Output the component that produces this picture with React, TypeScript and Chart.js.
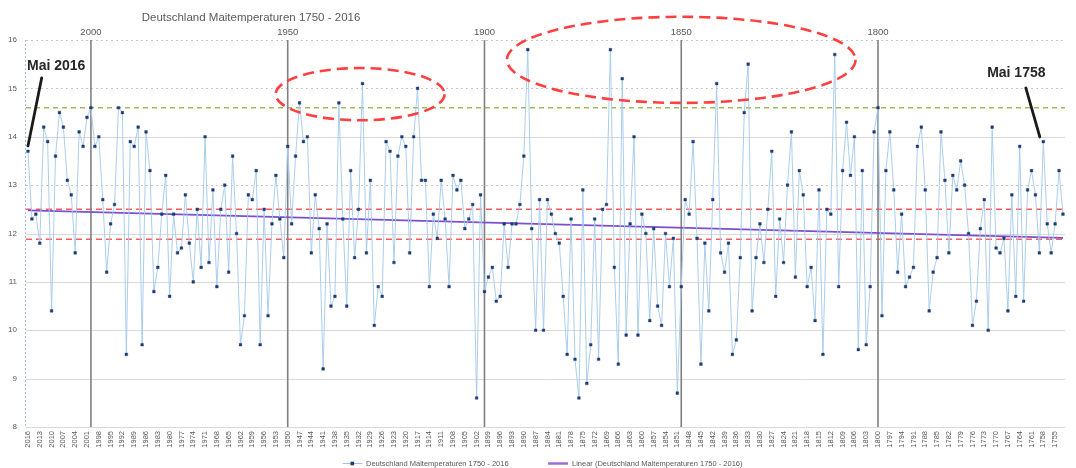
import React, { useEffect, useRef } from "react";
import { Chart, registerables } from "chart.js";

Chart.register(...registerables);

// ---------- data ----------
const firstYear = 2016;
const lastYear = 1753;

// May temperatures (°C), newest first
const temps2016to1951 = [
  13.7, 12.3, 12.4, 11.8, 14.2, 13.9, 10.4, 13.6, 14.5, 14.2,
  13.1, 12.8, 11.6, 14.1, 13.8, 14.4, 14.6, 13.8, 14.0, 12.7,
  11.2, 12.2, 12.6, 14.6, 14.5, 9.5, 13.9, 13.8, 14.2, 9.7,
  14.1, 13.3, 10.8, 11.3, 12.4, 13.2, 10.7, 12.4, 11.6, 11.7,
  12.8, 11.8, 11.0, 12.5, 11.3, 14.0, 11.4, 12.9, 10.9, 12.5,
  13.0, 11.2, 13.6, 12.0, 9.7, 10.3, 12.8, 12.7, 13.3, 9.7,
  12.5, 10.3, 12.2, 13.2, 12.3, 11.5,
];
const temps1950to1901 = [
  13.8, 12.2, 13.6, 14.7, 13.9, 14.0, 11.6, 12.8, 12.1, 9.2,
  12.2, 10.5, 10.7, 14.7, 12.3, 10.5, 13.3, 11.5, 12.5, 15.1,
  11.6, 13.1, 10.1, 10.9, 10.7, 13.9, 13.7, 11.4, 13.6, 14.0,
  13.8, 11.6, 14.0, 15.0, 13.1, 13.1, 10.9, 12.4, 11.9, 13.1,
  12.3, 10.9, 13.2, 12.9, 13.1, 12.1, 12.3, 12.6, 8.6, 12.8,
];
const temps1900to1851 = [
  10.8, 11.1, 11.3, 10.6, 10.7, 12.2, 11.3, 12.2, 12.2, 12.6,
  13.6, 15.8, 12.1, 10.0, 12.7, 10.0, 12.7, 12.4, 12.0, 11.8,
  10.7, 9.5, 12.3, 9.4, 8.6, 12.9, 8.9, 9.7, 12.3, 9.4,
  12.5, 12.6, 15.8, 11.3, 9.3, 15.2, 9.9, 12.2, 14.0, 9.9,
  12.4, 12.0, 10.2, 12.1, 10.5, 10.1, 12.0, 10.9, 11.9, 8.7,
];
const temps1850to1801 = [
  10.9, 12.7, 12.4, 13.9, 11.9, 9.3, 11.8, 10.4, 12.7, 15.1,
  11.6, 11.2, 11.8, 9.5, 9.8, 11.5, 14.5, 15.5, 10.4, 11.5,
  12.2, 11.4, 12.5, 13.7, 10.7, 12.3, 11.4, 13.0, 14.1, 11.1,
  13.3, 12.8, 10.9, 11.3, 10.2, 12.9, 9.5, 12.5, 12.4, 15.7,
  10.9, 13.3, 14.3, 13.2, 14.0, 9.6, 13.3, 9.7, 10.9, 14.1,
];
const temps1800to1753 = [
  14.6, 10.3, 13.3, 14.1, 12.9, 11.2, 12.4, 10.9, 11.1, 11.3,
  13.8, 14.2, 12.9, 10.4, 11.2, 11.5, 14.1, 13.1, 11.6, 13.2,
  12.9, 13.5, 13.0, 12.0, 10.1, 10.6, 12.1, 12.7, 10.0, 14.2,
  11.7, 11.6, 11.9, 10.4, 12.8, 10.7, 13.8, 10.6, 12.9, 13.3,
  12.8, 11.6, 13.9, 12.2, 11.6, 12.2, 13.3, 12.4,
];

// linear trend end values
const trendStart = 12.48;
const trendEnd = 11.91;

// reference lines
const redLineValues = [12.5, 11.88];
const greenLineValues = [14.6];
const solidGridValues = [8, 9, 10, 11, 12, 14];
const dashedGridValues = [13, 15, 16];
const markerYears = [2000, 1950, 1900, 1850, 1800];

// annotations
const ellipseCenters = [
  { year: 1931.6, value: 14.88, yearRadius: 21.45, valueRadius: 0.54 },
  { year: 1850.0, value: 15.59, yearRadius: 44.3, valueRadius: 0.89 },
];
const calloutYears = [2016, 1758];
const calloutTexts = ["Mai 2016", "Mai 1758"];

const titleText = "Deutschland Maitemperaturen 1750 - 2016";
const seriesName = "Deutschland Maitemperaturen 1750 - 2016";
const trendName = "Linear (Deutschland Maitemperaturen 1750 - 2016)";

const FONT = '"Liberation Sans", Arial, sans-serif';

const App = () => {
  const ref = useRef<HTMLCanvasElement>(null);

  useEffect(() => {
    const canvas = ref.current;
    if (!canvas) return;
    const years: number[] = [];
    for (let yv = firstYear; yv >= lastYear; yv--) years.push(yv);
    const labels = years.map(String);
    const temps = [
      ...temps2016to1951,
      ...temps1950to1901,
      ...temps1900to1851,
      ...temps1850to1801,
      ...temps1800to1753,
    ];
    const trend = labels.map((_, i) =>
      i === 0 ? trendStart : i === labels.length - 1 ? trendEnd : null
    );

    const line = (c: CanvasRenderingContext2D, x1: number, y1: number, x2: number, y2: number) => {
      c.beginPath();
      c.moveTo(x1, y1);
      c.lineTo(x2, y2);
      c.stroke();
    };

    const overlay = {
      id: "overlay",
      beforeDatasetsDraw(chart: any) {
        const c: CanvasRenderingContext2D = chart.ctx;
        const xs = chart.scales.x;
        const ys = chart.scales.y;
        const ca = chart.chartArea;
        c.save();
        // grid
        c.lineWidth = 1;
        c.strokeStyle = "#d9d9d9";
        c.setLineDash([]);
        solidGridValues.forEach((v) => {
          const py = Math.round(ys.getPixelForValue(v)) + 0.5;
          line(c, ca.left, py, ca.right, py);
        });
        c.strokeStyle = "#c8c8c8";
        c.setLineDash([2, 3]);
        dashedGridValues.forEach((v) => {
          const py = Math.round(ys.getPixelForValue(v)) + 0.5;
          line(c, ca.left, py, ca.right, py);
        });
        // green line
        c.strokeStyle = "#9bbb59";
        c.lineWidth = 1.3;
        c.setLineDash([5, 4]);
        greenLineValues.forEach((v) => {
          const py = ys.getPixelForValue(v);
          line(c, ca.left, py, ca.right, py);
        });
        // red lines
        c.strokeStyle = "#ff5a5a";
        c.lineWidth = 1.5;
        c.setLineDash([6, 4]);
        redLineValues.forEach((v) => {
          const py = ys.getPixelForValue(v);
          line(c, ca.left, py, ca.right, py);
        });
        // vertical year lines
        c.setLineDash([]);
        c.strokeStyle = "#808080";
        c.lineWidth = 1.6;
        markerYears.forEach((yr) => {
          const px = xs.getPixelForValue(firstYear - yr);
          line(c, px, ca.top, px, ca.bottom);
        });
        // y axis line
        c.strokeStyle = "#9dc3e6";
        c.lineWidth = 1;
        c.setLineDash([2, 2]);
        line(c, ca.left - 0.5, ca.top, ca.left - 0.5, ca.bottom);
        c.restore();
      },
      afterDatasetsDraw(chart: any) {
        const c: CanvasRenderingContext2D = chart.ctx;
        const xs = chart.scales.x;
        const ys = chart.scales.y;
        const ca = chart.chartArea;
        c.save();
        // ellipses
        c.strokeStyle = "#ff4040";
        c.lineWidth = 2.6;
        c.setLineDash([11, 6]);
        ellipseCenters.forEach((e) => {
          const cx = xs.getPixelForValue(firstYear - e.year);
          const rx = Math.abs(xs.getPixelForValue(e.yearRadius) - xs.getPixelForValue(0));
          const cy = ys.getPixelForValue(e.value);
          const ry = Math.abs(ys.getPixelForValue(e.value + e.valueRadius) - cy);
          c.beginPath();
          c.ellipse(cx, cy, rx, ry, 0, 0, Math.PI * 2);
          c.stroke();
        });
        c.setLineDash([]);
        // callouts
        const offs = [
          { tx: -1, ty: -85, align: "left", sx: 13.7, sy: -73.3, ex: 0, ey: -5.3 },
          { tx: -27, ty: -68.6, align: "center", sx: -17.5, sy: -53.6, ex: -3.5, ey: -4.6 },
        ];
        calloutYears.forEach((yr, k) => {
          const idx = firstYear - yr;
          const px = xs.getPixelForValue(idx);
          const py = ys.getPixelForValue(temps[idx]);
          const o = offs[k];
          c.strokeStyle = "#1a1a1a";
          c.lineWidth = 2.8;
          c.lineCap = "round";
          line(c, px + o.sx, py + o.sy, px + o.ex, py + o.ey);
          c.font = `bold 14px ${FONT}`;
          c.fillStyle = "#262626";
          c.textAlign = o.align as CanvasTextAlign;
          c.textBaseline = "middle";
          c.fillText(calloutTexts[k], px + o.tx, py + o.ty);
        });
        // title
        c.font = `11.5px ${FONT}`;
        c.fillStyle = "#595959";
        c.textAlign = "center";
        c.textBaseline = "middle";
        c.fillText(titleText, 251, 18);
        // top labels
        c.font = `9.5px ${FONT}`;
        markerYears.forEach((yr) => {
          const px = xs.getPixelForValue(firstYear - yr);
          c.fillText(String(yr), px, ca.top - 8);
        });
        // legend
        const ly = 463.5;
        c.font = `7.5px ${FONT}`;
        c.textAlign = "left";
        c.strokeStyle = "#9dc3e6";
        c.lineWidth = 1;
        line(c, 343, ly, 362, ly);
        c.fillStyle = "#1f3b73";
        c.fillRect(350.5, ly - 1.8, 3.6, 3.6);
        c.fillStyle = "#595959";
        c.fillText(seriesName, 366, ly);
        c.strokeStyle = "#9b6fd6";
        c.lineWidth = 2.5;
        c.lineCap = "butt";
        line(c, 548, ly, 568, ly);
        c.fillText(trendName, 572, ly);
        c.restore();
      },
    };

    const chart = new Chart(canvas, {
      type: "line",
      data: {
        labels,
        datasets: [
          {
            label: seriesName,
            data: temps,
            borderColor: "rgba(168,202,234,0.95)",
            borderWidth: 1,
            pointStyle: "rect",
            pointRadius: 1.9,
            pointBackgroundColor: "#1f3b73",
            pointBorderColor: "#1f3b73",
            pointBorderWidth: 0.4,
            tension: 0,
          },
          {
            label: trendName,
            data: trend,
            borderColor: "#7a4fd0",
            borderWidth: 1.8,
            pointRadius: 0,
            spanGaps: true,
          },
        ],
      } as any,
      options: {
        animation: false,
        responsive: false,
        layout: { padding: { top: 40, right: 4, bottom: 13, left: 0 } },
        plugins: {
          legend: { display: false },
          tooltip: { enabled: false },
          title: { display: false },
        },
        scales: {
          x: {
            offset: true,
            grid: { display: false, drawTicks: false },
            border: { display: false },
            ticks: {
              autoSkip: false,
              maxRotation: 90,
              minRotation: 90,
              padding: 4,
              color: "#595959",
              font: { size: 7.5, family: FONT },
              callback: (_v: any, i: number) => (i % 3 === 0 ? labels[i] : ""),
            },
            afterFit: (s: any) => {
              s.height = 28;
            },
          },
          y: {
            min: 8,
            max: 16,
            grid: { display: false, drawTicks: false },
            border: { display: false },
            ticks: {
              stepSize: 1,
              padding: 9,
              color: "#595959",
              font: { size: 8, family: FONT },
            },
            afterFit: (s: any) => {
              s.width = 26;
            },
          },
        },
      } as any,
      plugins: [overlay],
    });
    return () => chart.destroy();
  }, []);

  return (
    <canvas
      ref={ref}
      width={1076}
      height={468}
      style={{ display: "block", position: "absolute", left: 0, top: 0, background: "#fff" }}
    />
  );
};

export default App;
